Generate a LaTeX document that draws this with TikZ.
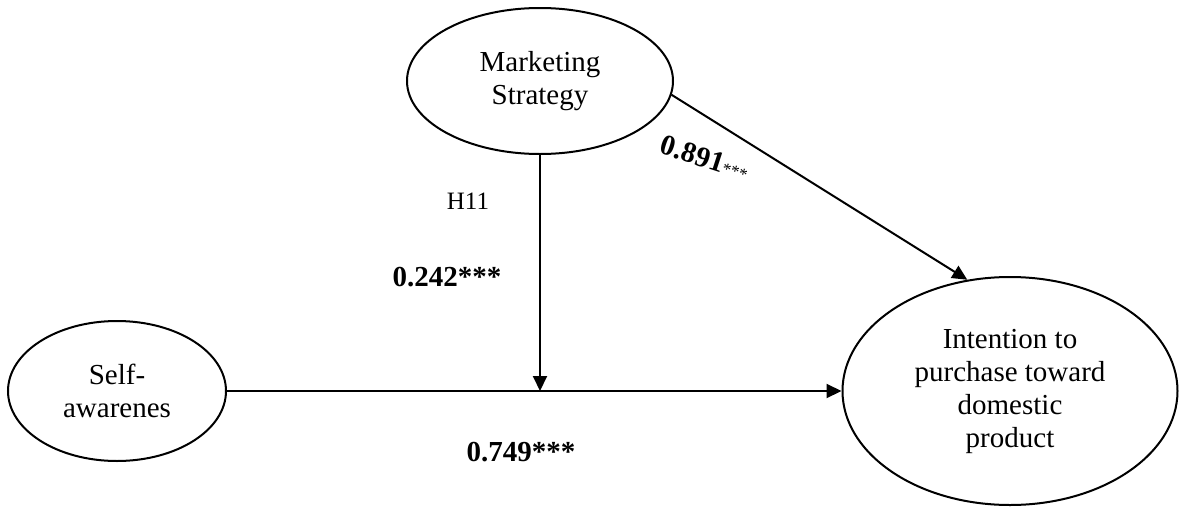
\documentclass[tikz,border=0pt]{standalone}
\usepackage{fontspec}
\setmainfont{Liberation Serif}
\usepackage{tikz}
\usetikzlibrary{arrows.meta,shapes.geometric}

\begin{document}
\begin{tikzpicture}[x=1pt,y=-1pt,
    every node/.style={font=\fontsize{29}{33}\selectfont, align=center},
    latent/.style={draw,ellipse,line width=2pt,inner sep=0pt},
    path/.style={-{Triangle[length=15pt,width=14pt]},line width=2pt},
    coef/.style={font=\fontsize{29}{33}\selectfont\bfseries}]
  \useasboundingbox (0,0) rectangle (1180,506);

  \node[latent,minimum width=266pt,minimum height=146pt] (mkt) at (540,81) {Marketing\\Strategy};
  \node[latent,minimum width=218pt,minimum height=140pt] (self) at (117,391) {Self-\\awarenes};
  \node[latent,minimum width=335pt,minimum height=228pt] (intent) at (1010,391) {Intention to\\purchase toward\\domestic\\product};

  \coordinate (join) at (mkt.south |- self.east);

  \draw[path] (self) -- (intent);
  \draw[path] (mkt) -- (join);
  \draw[path] (mkt.-6) -- (intent.111);

  \node[font=\fontsize{25}{29}\selectfont] (hyp) at (468,201) {H11};
  \node[coef] (c1) at (447,277) {0.242***};
  \node[coef] (c2) at (521,452) {0.749***};
  \node[rotate=-18] (c3) at (705,158) {\textbf{0.891}{\fontsize{17}{17}\selectfont ***}};
\end{tikzpicture}
\end{document}
